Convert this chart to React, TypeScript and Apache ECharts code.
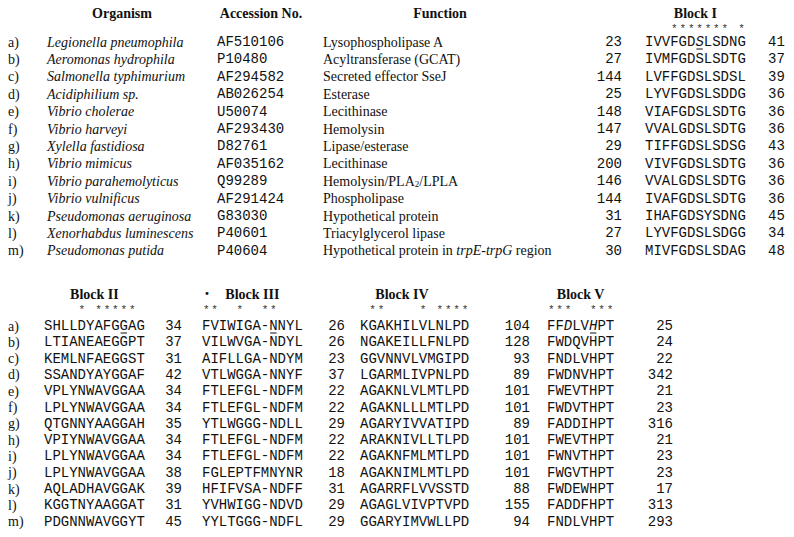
import React, { useEffect, useRef } from "react";
import * as echarts from "echarts";

// ---------- data ----------
const rowLabels = ["a)", "b)", "c)", "d)", "e)", "f)", "g)", "h)", "i)", "j)", "k)", "l)", "m)"];
const organisms = [
  "Legionella pneumophila", "Aeromonas hydrophila", "Salmonella typhimurium", "Acidiphilium sp.",
  "Vibrio cholerae", "Vibrio harveyi", "Xylella fastidiosa", "Vibrio mimicus", "Vibrio parahemolyticus",
  "Vibrio vulnificus", "Pseudomonas aeruginosa", "Xenorhabdus luminescens", "Pseudomonas putida",
];
const accessions = ["AF510106", "P10480", "AF294582", "AB026254", "U50074", "AF293430", "D82761", "AF035162", "Q99289", "AF291424", "G83030", "P40601", "P40604"];
const functions = [
  "Lysophospholipase A", "Acyltransferase (GCAT)", "Secreted effector SseJ", "Esterase", "Lecithinase",
  "Hemolysin", "Lipase/esterase", "Lecithinase", "Hemolysin/PLA{sub|2}/LPLA", "Phospholipase",
  "Hypothetical protein", "Triacylglycerol lipase", "Hypothetical protein in {it|trpE-trpG} region",
];
const block1Start = [23, 27, 144, 25, 148, 147, 29, 200, 146, 144, 31, 27, 30];
const block1Seq = ["IVVFGDSLSDNG", "IVMFGDSLSDTG", "LVFFGDSLSDSL", "LYVFGDSLSDDG", "VIAFGDSLSDTG", "VVALGDSLSDTG", "TIFFGDSLSDSG", "VIVFGDSLSDTG", "VVALGDSLSDTG", "IVAFGDSLSDTG", "IHAFGDSYSDNG", "LYVFGDSLSDGG", "MIVFGDSLSDAG"];
const block1End = [41, 37, 39, 36, 36, 36, 43, 36, 36, 36, 45, 34, 48];
const block2Seq = ["SHLLDYAFGGAG", "LTIANEAEGGPT", "KEMLNFAEGGST", "SSANDYAYGGAF", "VPLYNWAVGGAA", "LPLYNWAVGGAA", "QTGNNYAAGGAH", "VPIYNWAVGGAA", "LPLYNWAVGGAA", "LPLYNWAVGGAA", "AQLADHAVGGAK", "KGGTNYAAGGAT", "PDGNNWAVGGYT"];
const block2Gap = [34, 37, 31, 42, 34, 34, 35, 34, 34, 38, 39, 31, 45];
const block3Seq = ["FVIWIGA-NNYL", "VILWVGA-NDYL", "AIFLLGA-NDYM", "VTLWGGA-NNYF", "FTLEFGL-NDFM", "FTLEFGL-NDFM", "YTLWGGG-NDLL", "FTLEFGL-NDFM", "FTLEFGL-NDFM", "FGLEPTFMNYNR", "HFIFVSA-NDFF", "YVHWIGG-NDVD", "YYLTGGG-NDFL"];
const block3Gap = [26, 26, 23, 37, 22, 22, 29, 22, 22, 18, 31, 29, 29];
const block4Seq = ["KGAKHILVLNLPD", "NGAKEILLFNLPD", "GGVNNVLVMGIPD", "LGARMLIVPNLPD", "AGAKNLVLMTLPD", "AGAKNLLLMTLPD", "AGARYIVVATIPD", "ARAKNIVLLTLPD", "AGAKNFMLMTLPD", "AGAKNIMLMTLPD", "AGARRFLVVSSTD", "AGAGLVIVPTVPD", "GGARYIMVWLLPD"];
const block4Gap = [104, 128, 93, 89, 101, 101, 89, 101, 101, 101, 88, 155, 94];
const block5Seq = ["FFDLVHPT", "FWDQVHPT", "FNDLVHPT", "FWDNVHPT", "FWEVTHPT", "FWDVTHPT", "FADDIHPT", "FWEVTHPT", "FWNVTHPT", "FWGVTHPT", "FWDEWHPT", "FADDFHPT", "FNDLVHPT"];
const block5End = [25, 24, 22, 342, 21, 23, 316, 21, 23, 23, 17, 313, 293];

const block1Stars = "   ******* *";
const block2Stars = "    * *****";
const block3Stars = "**  *  **";
const block4Stars = " **    * ****";
const block5Stars = "***  ***";

// highlighted residues in row a): [block, column(0-based), italic, underline]
const highlights: [number, number, boolean, boolean][] = [
  [1, 6, true, true],
  [2, 9, false, true],
  [3, 8, false, true],
  [5, 2, true, false],
  [5, 5, true, true],
];

// ---------- layout ----------
const SERIF = '"Liberation Serif", "Times New Roman", serif';
const MONO = '"Liberation Mono", "Courier New", monospace';
const FS = 14;
const CW = 8.4;
const INK = "#111";

const topY = (i: number) => 42 + i * 17.4;
const botY = (i: number) => 326 + i * 16.3;

const X = {
  label: 8, org: 47, acc: 217, fn: 323, b1s: 622, b1: 645, b1e: 768,
  b2: 44, b2g: 182, b3: 202, b3g: 345, b4: 360, b4g: 530, b5: 547, b5e: 673,
};

function buildGraphics() {
  const els: any[] = [];
  const text = (t: string, x: number, y: number, o: any = {}) => {
    els.push({
      type: "text", x, y, silent: true,
      style: {
        text: t, fill: o.fill || INK,
        fontFamily: o.mono ? MONO : SERIF,
        fontSize: o.size || FS,
        fontWeight: o.bold ? "bold" : "normal",
        fontStyle: o.italic ? "italic" : "normal",
        textAlign: o.align || "left",
        textVerticalAlign: "middle",
        rich: o.rich,
      },
    });
  };
  const stars = (pattern: string, x0: number, y: number) => {
    for (let c = 0; c < pattern.length; c++) {
      if (pattern[c] === "*") text("*", x0 + (c + 0.5) * CW, y, { mono: true, size: 11, align: "center", fill: "#333" });
    }
  };
  const seq = (s: string, x: number, y: number, block: number, row: number) => {
    let t = s;
    if (row === 0) {
      const parts: string[] = [];
      s.split("").forEach((ch, c) => {
        const h = highlights.find((hh) => hh[0] === block && hh[1] === c && hh[2]);
        parts.push(h ? `{it|${ch}}` : ch);
      });
      t = parts.join("");
      highlights.filter((hh) => hh[0] === block && hh[3]).forEach((hh) => {
        els.push({
          type: "line", silent: true,
          shape: { x1: x + hh[1] * CW + 1, y1: y + 7, x2: x + (hh[1] + 1) * CW - 1, y2: y + 7 },
          style: { stroke: INK, lineWidth: 1 },
        });
      });
    }
    text(t, x, y, { mono: true, rich: { it: { fontFamily: MONO, fontSize: FS, fontStyle: "italic", fill: INK } } });
  };

  // top headers
  text("Organism", 122, 13, { bold: true, align: "center" });
  text("Accession No.", 261, 13, { bold: true, align: "center" });
  text("Function", 440, 13, { bold: true, align: "center" });
  text("Block I", X.b1 + 6 * CW, 13, { bold: true, align: "center" });
  stars(block1Stars, X.b1, 29);

  rowLabels.forEach((lab, i) => {
    const y = topY(i);
    text(lab, X.label, y);
    text(organisms[i], X.org, y, { italic: true });
    text(accessions[i], X.acc, y, { mono: true });
    text(functions[i], X.fn, y, {
      rich: {
        it: { fontFamily: SERIF, fontSize: FS, fontStyle: "italic", fill: INK },
        sub: { fontFamily: SERIF, fontSize: 9, fill: INK, padding: [6, 0, 0, 0] },
      },
    });
    text(String(block1Start[i]), X.b1s, y, { mono: true, align: "right" });
    seq(block1Seq[i], X.b1, y, 1, i);
    text(String(block1End[i]), X.b1e, y, { mono: true });
  });

  // bottom headers
  text("Block II", X.b2 + 6 * CW, 294, { bold: true, align: "center" });
  text("\u00b7", 207, 294, { bold: true, size: 18, align: "center" });
  text("Block III", X.b3 + 6 * CW, 294, { bold: true, align: "center" });
  text("Block IV", 402, 294, { bold: true, align: "center" });
  text("Block V", X.b5 + 4 * CW, 294, { bold: true, align: "center" });
  stars(block2Stars, X.b2, 310);
  stars(block3Stars, X.b3, 310);
  stars(block4Stars, X.b4, 310);
  stars(block5Stars, X.b5, 310);

  rowLabels.forEach((lab, i) => {
    const y = botY(i);
    text(lab, X.label, y);
    seq(block2Seq[i], X.b2, y, 2, i);
    text(String(block2Gap[i]), X.b2g, y, { mono: true, align: "right" });
    seq(block3Seq[i], X.b3, y, 3, i);
    text(String(block3Gap[i]), X.b3g, y, { mono: true, align: "right" });
    seq(block4Seq[i], X.b4, y, 4, i);
    text(String(block4Gap[i]), X.b4g, y, { mono: true, align: "right" });
    seq(block5Seq[i], X.b5, y, 5, i);
    text(String(block5End[i]), X.b5e, y, { mono: true, align: "right" });
  });
  return els;
}

export default function App() {
  const ref = useRef<HTMLDivElement>(null);
  useEffect(() => {
    document.body.style.margin = "0";
    const chart = echarts.init(ref.current!, null, { renderer: "svg" });
    chart.setOption({
      animation: false,
      backgroundColor: "#fff",
      graphic: { elements: buildGraphics() },
    });
    return () => chart.dispose();
  }, []);
  return <div ref={ref} style={{ width: 794, height: 537 }} />;
}
